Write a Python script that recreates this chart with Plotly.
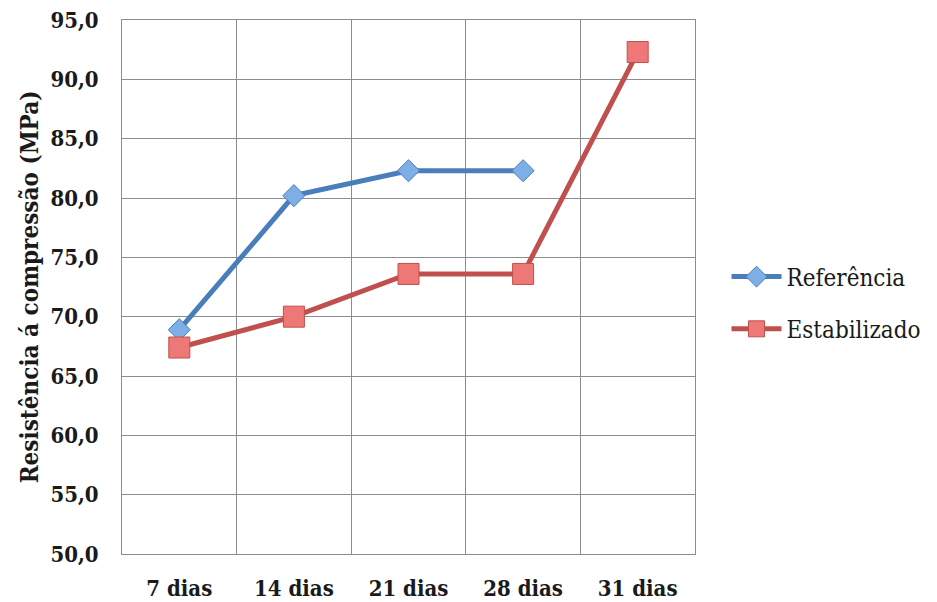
import plotly.graph_objects as go

categories = ["7 dias", "14 dias", "21 dias", "28 dias", "31 dias"]
referencia = [68.9, 80.2, 82.3, 82.3, None]
estabilizado = [67.4, 70.0, 73.6, 73.6, 92.3]
y_ticks = [50, 55, 60, 65, 70, 75, 80, 85, 90, 95]
y_tick_text = [f"{v:.1f}".replace(".", ",") for v in y_ticks]

xpos = list(range(len(categories)))
font_family = "DejaVu Serif Condensed, DejaVu Serif, serif"
txt = "#1a1a1a"

fig = go.Figure()
fig.add_trace(go.Scatter(
    x=xpos, y=referencia, name="Referência", mode="lines+markers",
    legendgroup="a",
    line=dict(color="#4A7EBB", width=5),
    marker=dict(symbol="diamond", size=17, color="#7EAEE6",
                line=dict(color="#4A7EBB", width=1)),
))
fig.add_trace(go.Scatter(
    x=xpos, y=estabilizado, name="Estabilizado", mode="lines+markers",
    legendgroup="b",
    line=dict(color="#C0504D", width=5),
    marker=dict(symbol="square", size=21, color="#EE7875",
                line=dict(color="#C0504D", width=1)),
))

tick_font = dict(family=font_family, size=22, color=txt, weight="bold")

fig.update_layout(
    width=937, height=602,
    margin=dict(l=122, r=240, t=20, b=48),
    paper_bgcolor="white", plot_bgcolor="white",
    font=dict(family=font_family, size=22, color=txt),
    showlegend=True,
    legend=dict(x=1.055, y=0.47, yanchor="middle", xanchor="left",
                font=dict(family=font_family, size=24, color=txt),
                tracegroupgap=18, itemwidth=50, bgcolor="rgba(0,0,0,0)"),
    xaxis=dict(
        range=[-0.5, 4.5], tickmode="array", tickvals=xpos, ticktext=categories,
        showgrid=False, zeroline=False, automargin=False,
        showline=True, linecolor="#8c8c8c", linewidth=1, mirror=True,
        minor=dict(tickmode="linear", tick0=-0.5, dtick=1, showgrid=True,
                   gridcolor="#8c8c8c", gridwidth=1),
        tickfont=tick_font,
        ticklabelstandoff=15,
    ),
    yaxis=dict(
        range=[50, 95], tickmode="array", tickvals=y_ticks, ticktext=y_tick_text,
        showgrid=True, gridcolor="#8c8c8c", gridwidth=1, zeroline=False,
        automargin=False,
        showline=True, linecolor="#8c8c8c", linewidth=1, mirror=True,
        tickfont=tick_font,
        title=dict(text="Resistência á compressão (MPa)",
                   font=dict(family=font_family, size=24, color=txt, weight="bold"),
                   standoff=4),
        ticklabelstandoff=18,
    ),
)

fig.write_html("out.html")
